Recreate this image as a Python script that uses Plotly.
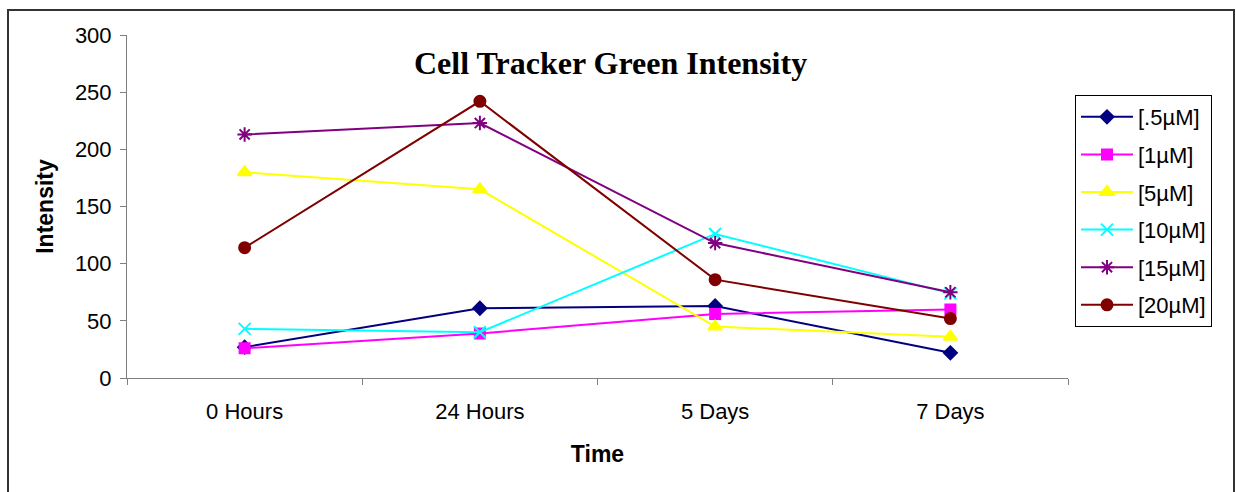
import plotly.graph_objects as go

times = ["0 Hours", "24 Hours", "5 Days", "7 Days"]
series_names = ["[.5µM]", "[1µM]", "[5µM]", "[10µM]", "[15µM]", "[20µM]"]
conc_0_5 = [27, 61, 63, 22]
conc_1 = [26, 39, 56, 60]
conc_5 = [180, 165, 45, 36]
conc_10 = [43, 40, 126, 74]
conc_15 = [213, 223, 118, 75]
conc_20 = [114, 242, 86, 52]

values = [conc_0_5, conc_1, conc_5, conc_10, conc_15, conc_20]
colors = ["#000080", "#FF00FF", "#FFFF00", "#00FFFF", "#800080", "#800000"]
symbols = ["diamond", "square", "triangle-up", "x-thin-open", "asterisk-open", "circle"]
sizes = [10, 10, 12, 12, 12, 11]

W, H = 1236, 492
L, R, T, B = 127, 168, 35, 114
pw, ph = W - L - R, H - T - B


def px(x):
    return (x - L) / pw


def py(y):
    return (H - B - y) / ph


fig = go.Figure()
for name, vals, col, sym, sz in zip(series_names, values, colors, symbols, sizes):
    fig.add_trace(go.Scatter(
        x=times, y=vals, name=name, mode="lines+markers",
        line=dict(color=col, width=2),
        marker=dict(symbol=sym, size=sz, color=col, line=dict(color=col, width=2)),
        legendgroup=name,
    ))

tick_font = dict(family="Liberation Sans, Arial", size=22, color="black")
title_font = dict(family="Liberation Sans, Arial", size=23, color="black")

fig.update_layout(
    width=W, height=H,
    margin=dict(l=L, r=R, t=T, b=B),
    paper_bgcolor="white", plot_bgcolor="white",
    showlegend=True,
    legend=dict(
        x=px(1075), y=py(95), xanchor="left", yanchor="top",
        bordercolor="black", borderwidth=1,
        font=dict(family="Liberation Sans, Arial", size=22, color="black"),
        tracegroupgap=6,
        itemwidth=52,
    ),
    xaxis=dict(
        type="category", range=[-0.5, 3.5],
        tickson="boundaries", ticks="outside", ticklen=6, tickcolor="#808080",
        ticklabelstandoff=14,
        showline=True, linecolor="#808080", linewidth=1,
        showgrid=False, zeroline=False,
        tickfont=tick_font,
        title=dict(text="<b>Time</b>", font=title_font, standoff=22),
    ),
    yaxis=dict(
        range=[0, 300], dtick=50, ticks="outside", ticklen=6, tickcolor="#808080",
        ticklabelstandoff=4,
        showline=True, linecolor="#808080", linewidth=1,
        showgrid=False, zeroline=False,
        tickfont=tick_font,
        title=dict(text="<b>Intensity</b>", font=title_font, standoff=14),
    ),
    annotations=[dict(
        text="<b>Cell Tracker Green Intensity</b>",
        xref="paper", yref="paper", x=px(610), y=py(63),
        xanchor="center", yanchor="middle", showarrow=False,
        font=dict(family="Liberation Serif, Times New Roman", size=32, color="black"),
    )],
    shapes=[dict(
        type="rect", xref="paper", yref="paper",
        x0=px(8), x1=px(1234), y0=py(498), y1=py(10),
        line=dict(color="#333333", width=2), fillcolor="rgba(0,0,0,0)",
        layer="below",
    )],
)

fig.write_html("out.html")
